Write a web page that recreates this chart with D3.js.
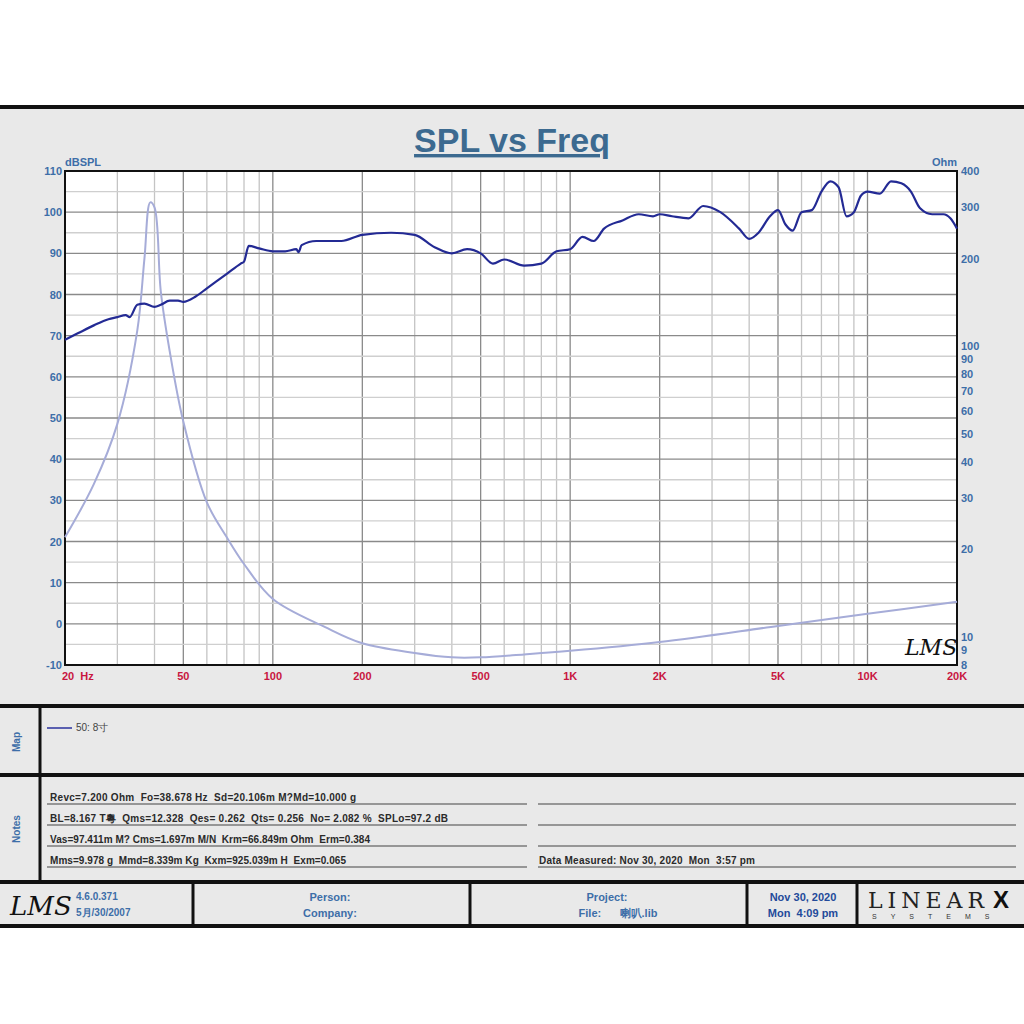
<!DOCTYPE html>
<html><head><meta charset="utf-8">
<script src="https://cdn.jsdelivr.net/npm/d3@7"></script>
<style>body{margin:0;background:#fff}svg{display:block;font-family:"Liberation Sans",Arial,sans-serif}</style>
</head><body><svg id="c" width="1024" height="1024"></svg>
<script>
// SPL curve (Hz, dB)
var splFreq = [20,22,25,28,30,32,33,35,37,40,42,45,48,50,55,60,70,78,80,83,90,100,110,120,122,125,140,170,200,250,300,350,400,450,500,550,600,700,800,900,1000,1100,1200,1300,1500,1700,1900,2000,2200,2500,2800,3200,3700,4000,4300,4700,5000,5300,5600,6000,6500,7000,7500,8000,8500,9000,9500,10000,11000,12000,13000,14000,15000,16500,18000,19000,20000]
var splDb = [69,70.5,72.5,74,74.5,75,74.5,77.5,77.8,77,77.5,78.5,78.5,78.2,79.5,81.5,85,87.5,88,91.8,91.2,90.5,90.5,91,90.3,92,93,93,94.5,95,94.5,91.5,90,91,90,87.5,88.5,87,87.5,90.5,91,94,93,96,98,99.5,99,99.5,99,98.5,101.5,100,96,93.5,95,99,100.5,97,95.5,100,100.5,105,107.5,106,99,100,104,105,104.5,107.5,107,105,101,99.5,99.5,98.5,96]
// impedance curve (Hz, Ohm)
var zFreq = [20,25,30,35,37,38.7,40,42,45,50,60,70,80,100,150,200,300,400,500,700,1000,2000,5000,10000,20000]
var zOhm = [22,33.5,54,113,200,312,300,154,96,55,29,22,17.8,13.5,10.8,9.5,8.8,8.5,8.5,8.7,8.95,9.6,10.9,12,13.2]
var dbTicks = [110,100,90,80,70,60,50,40,30,20,10,0,-10]
var ohmTicks = [400,300,200,100,90,80,70,60,50,40,30,20,10,9,8]
var fTicks = [20,50,100,200,500,1000,2000,5000,10000,20000]
var fLabels = ["20  Hz","50","100","200","500","1K","2K","5K","10K","20K"]

var svg = d3.select("#c")
var L=65,R=957,T=171,B=665
var x = d3.scaleLog().domain([20,20000]).range([L,R])
var y = d3.scaleLinear().domain([-10,110]).range([B,T])
var yz = d3.scaleLog().domain([8,400]).range([B,T])

svg.append("rect").attr("x",0).attr("y",107).attr("width",1024).attr("height",820).attr("fill","#e9e9e9")
svg.append("rect").attr("x",L).attr("y",T).attr("width",R-L).attr("height",B-T).attr("fill","#fff")

// grid
var vg = []
for (var d=10; d<=10000; d*=10) for (var m=1;m<10;m++){ var f=d*m; if(f>=20&&f<=20000) vg.push(f) }
svg.append("g").selectAll("line").data(vg).enter().append("line")
  .attr("x1",d=>x(d)).attr("x2",d=>x(d)).attr("y1",T).attr("y2",B)
  .attr("stroke",d=>{var m=d/Math.pow(10,Math.floor(Math.log10(d)+1e-9));return (Math.abs(m-1)<1e-6||Math.abs(m-2)<1e-6||Math.abs(m-5)<1e-6)?"#8a8a8a":"#c4c4c4"})
  .attr("stroke-width",1.3)
var hg = d3.range(-10,111,5)
svg.append("g").selectAll("line").data(hg).enter().append("line")
  .attr("x1",L).attr("x2",R).attr("y1",d=>y(d)).attr("y2",d=>y(d))
  .attr("stroke",d=>d%10==0?"#8a8a8a":"#cfcfcf").attr("stroke-width",1.3)
svg.append("rect").attr("x",L).attr("y",T).attr("width",R-L).attr("height",B-T).attr("fill","none").attr("stroke","#111").attr("stroke-width",2)

// curves
var zl = d3.line().x((d,i)=>x(zFreq[i])).y((d,i)=>yz(zOhm[i])).curve(d3.curveCatmullRom)
svg.append("path").attr("d",zl(zFreq)).attr("fill","none").attr("stroke","#a6acd8").attr("stroke-width",2)
var sl = d3.line().x((d,i)=>x(splFreq[i])).y((d,i)=>y(splDb[i])).curve(d3.curveMonotoneX)
svg.append("path").attr("d",sl(splFreq)).attr("fill","none").attr("stroke","#232a94").attr("stroke-width",2.2)

// axes labels
var blue="#3d6ea8"
svg.append("g").selectAll("text").data(dbTicks).enter().append("text")
  .attr("x",L-3).attr("y",d=>y(d)+4).attr("text-anchor","end").attr("font-size",11).attr("font-weight","bold").attr("fill",blue).text(d=>d)
svg.append("g").selectAll("text").data(ohmTicks).enter().append("text")
  .attr("x",R+4).attr("y",d=>yz(d)+4).attr("font-size",11).attr("font-weight","bold").attr("fill",blue).text(d=>d)
svg.append("g").selectAll("text").data(fTicks).enter().append("text")
  .attr("x",(d,i)=>i==0?x(d)-3:x(d)).attr("y",B+15).attr("text-anchor",(d,i)=>i==0?"start":"middle")
  .attr("font-size",11).attr("font-weight","bold").attr("fill","#c8163f").attr("xml:space","preserve").text((d,i)=>fLabels[i])
svg.append("text").attr("x",L).attr("y",T-5).attr("font-size",11).attr("font-weight","bold").attr("fill",blue).text("dBSPL")
svg.append("text").attr("x",R).attr("y",T-5).attr("text-anchor","end").attr("font-size",11).attr("font-weight","bold").attr("fill",blue).text("Ohm")
svg.append("text").attr("x",512).attr("y",152).attr("text-anchor","middle").attr("font-size",34).attr("font-weight","bold").attr("fill","#3c6a90").attr("text-decoration","underline").text("SPL vs Freq")
svg.append("text").attr("x",905).attr("y",655).attr("font-size",22).attr("font-style","italic").attr("font-family","DejaVu Serif").attr("fill","#111").text("LMS")

// frame lines
var k="#111"
function ln(x1,y1,x2,y2,w){svg.append("line").attr("x1",x1).attr("y1",y1).attr("x2",x2).attr("y2",y2).attr("stroke",k).attr("stroke-width",w)}
ln(0,107,1024,107,4); ln(0,706,1024,706,4); ln(0,775,1024,775,4); ln(0,882,1024,882,4); ln(0,926,1024,926,4)
ln(40,706,40,882,3)
;[193,470,747,857].forEach(v=>ln(v,882,v,926,3))
function tx(t,xx,yy,o){var e=svg.append("text").attr("x",xx).attr("y",yy).attr("font-size",o.s||10).attr("fill",o.c||"#333").attr("font-weight",o.b?"bold":"normal").attr("text-anchor",o.a||"start").attr("xml:space","preserve").text(t);if(o.r)e.attr("transform","rotate(-90,"+xx+","+yy+")");return e}
tx("Map",20,742,{c:blue,b:1,r:1,a:"middle",s:10})
tx("Notes",20,829,{c:blue,b:1,r:1,a:"middle",s:10})
svg.append("line").attr("x1",47).attr("x2",72).attr("y1",728).attr("y2",728).attr("stroke","#5a5fb0").attr("stroke-width",2)
tx("50: 8寸",76,731,{s:10,c:"#444"})
var notes=["Revc=7.200 Ohm  Fo=38.678 Hz  Sd=20.106m M?Md=10.000 g","BL=8.167 T粵  Qms=12.328  Qes= 0.262  Qts= 0.256  No= 2.082 %  SPLo=97.2 dB","Vas=97.411m M? Cms=1.697m M/N  Krm=66.849m Ohm  Erm=0.384","Mms=9.978 g  Mmd=8.339m Kg  Kxm=925.039m H  Exm=0.065"]
notes.forEach((t,i)=>{var yy=801+i*21;tx(t,50,yy,{s:10,c:"#2a2a2a",b:1}).attr("textLength",i==1?398:(i==0?306:(i==2?320:296)));svg.append("line").attr("x1",47).attr("x2",527).attr("y1",yy+3).attr("y2",yy+3).attr("stroke","#444").attr("stroke-width",1.2);svg.append("line").attr("x1",538).attr("x2",1016).attr("y1",yy+3).attr("y2",yy+3).attr("stroke","#444").attr("stroke-width",1.2)})
tx("Data Measured: Nov 30, 2020  Mon  3:57 pm",539,864,{s:10,c:"#2a2a2a",b:1}).attr("textLength",216)
svg.append("text").attr("x",10).attr("y",915).attr("font-size",26).attr("font-style","italic").attr("font-family","DejaVu Serif").attr("fill","#111").text("LMS")
tx("4.6.0.371",76,900,{c:blue,s:10,b:1}); tx("5月/30/2007",76,916,{c:blue,s:10,b:1})
tx("Person:",330,901,{c:blue,s:11,a:"middle",b:1}); tx("Company:",330,917,{c:blue,s:11,a:"middle",b:1})
tx("Project:",607,901,{c:blue,s:11,a:"middle",b:1}); tx("File:      喇叭.lib",618,917,{c:blue,s:11,a:"middle",b:1})
tx("Nov 30, 2020",803,901,{c:"#234a9a",s:11,a:"middle",b:1}); tx("Mon  4:09 pm",803,917,{c:"#234a9a",s:11,a:"middle",b:1})
svg.append("text").attr("x",868).attr("y",908).attr("font-size",22).attr("font-family","DejaVu Serif").attr("letter-spacing",5).attr("fill","#222").text("LINEAR")
svg.append("text").attr("x",993).attr("y",908).attr("font-size",24).attr("font-weight","bold").attr("fill","#111").text("X")
svg.append("text").attr("x",872).attr("y",919).attr("font-size",7).attr("letter-spacing",14).attr("fill","#333").text("SYSTEMS")
</script></body></html>
